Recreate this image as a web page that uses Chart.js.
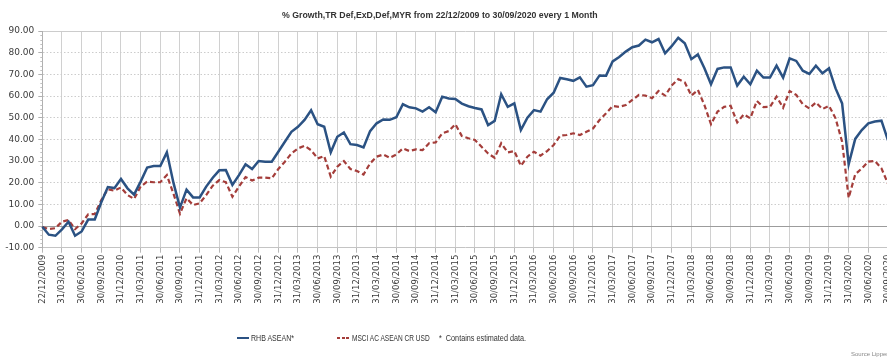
<!DOCTYPE html>
<html>
<head>
<meta charset="utf-8">
<script src="https://cdn.jsdelivr.net/npm/chart.js@4.4.1/dist/chart.umd.min.js"></script>
<style>
  html, body { margin: 0; padding: 0; background: #fff; overflow: hidden; }
  #wrap { position: relative; width: 887px; height: 358px; overflow: hidden; }
  #grafico { position: absolute; left: 0; top: 0; }
  .txt { position: absolute; white-space: nowrap; color: #333; font-family: "Liberation Sans", Arial, sans-serif; transform-origin: 0 50%; }
  #titulo { font-weight: bold; font-size: 9.5px; top: 9px; }
  .leg { font-size: 9px; top: 333px; }
  .linha { position: absolute; top: 337px; height: 2px; width: 12px; }
  #fonte { font-size: 6px; color: #888; top: 351px; left: 851px; }
</style>
</head>
<body>
<div id="wrap">
  <canvas id="grafico" width="890" height="358"></canvas>
  <div id="titulo" class="txt">% Growth,TR Def,ExD,Def,MYR from 22/12/2009 to 30/09/2020 every 1 Month</div>
  <div class="linha" style="left:237px;background:#2b5283;"></div>
  <div class="txt leg" style="left:251px" data-w="43">RHB ASEAN*</div>
  <div class="linha" style="left:337px;background:repeating-linear-gradient(to right,#a43d3a 0 3px,transparent 3px 4.5px);"></div>
  <div class="txt leg" style="left:352px" data-w="78">MSCI AC ASEAN CR USD</div>
  <div class="txt leg" style="left:439px" data-w="87">*&nbsp; Contains estimated data.</div>
  <div id="fonte" class="txt">Source Lipper</div>
</div>
<script>
// Rótulos trimestrais do eixo X
const rotulosEixo = [
  '22/12/2009', '31/03/2010', '30/06/2010', '30/09/2010', '31/12/2010',
  '31/03/2011', '30/06/2011', '30/09/2011', '31/12/2011',
  '31/03/2012', '30/06/2012', '30/09/2012', '31/12/2012',
  '31/03/2013', '30/06/2013', '30/09/2013', '31/12/2013',
  '31/03/2014', '30/06/2014', '30/09/2014', '31/12/2014',
  '31/03/2015', '30/06/2015', '30/09/2015', '31/12/2015',
  '31/03/2016', '30/06/2016', '30/09/2016', '31/12/2016',
  '31/03/2017', '30/06/2017', '30/09/2017', '31/12/2017',
  '31/03/2018', '30/06/2018', '30/09/2018', '31/12/2018',
  '31/03/2019', '30/06/2019', '30/09/2019', '31/12/2019',
  '31/03/2020', '30/06/2020', '30/09/2020'
];

// Crescimento mensal (%) - RHB ASEAN*
const rhbAsean = [
  -0.3, -4, -4.5, -1.5, 2, -4.5, -2.5, 3, 3, 11,
  18, 17.5, 21.7, 17.4, 14.5, 20.5, 27, 27.7, 27.7, 34,
  20, 8.5, 16.8, 13.2, 13.2, 18.2, 22.3, 25.7, 25.8, 19,
  23.5, 28.5, 26.3, 30, 29.7, 29.7, 34.3, 38.9, 43.5, 45.8,
  49, 53.4, 47, 45.8, 34, 41.2, 43.2, 37.8, 37.4, 36.3,
  43.8, 47.4, 49.2, 49, 50.2, 56.2, 54.8, 54.3, 52.8, 54.8,
  52.5, 59.7, 58.9, 58.6, 56.5, 55.3, 54.5, 53.8, 46.6, 48.5,
  60.8, 55, 56.6, 44.3, 50, 53.5, 52.8, 58.5, 61.5, 68.3,
  67.7, 67, 68.6, 64.3, 65, 69.5, 69.4, 76, 78, 80.5,
  82.5, 83.3, 86, 84.8, 86.3, 79.7, 83, 86.9, 84.3, 77,
  79.2, 72.8, 65.4, 72.5, 73.2, 73.2, 64.8, 68.9, 65.4, 71.7,
  68.5, 68.5, 74, 68.5, 77.4, 76.2, 71.7, 70.2, 74, 70.5,
  72.8, 63.5, 56.6, 28.5, 40.2, 44.3, 47.4, 48.2, 48.6, 39.5
];

// Crescimento mensal (%) - MSCI AC ASEAN CR USD
const msciAsean = [
  -0.5, -1.4, -1, 2, 2.8, -1.4, 1.2, 5.4, 5.5, 12,
  17, 16.3, 17.8, 14.3, 12.5, 18.2, 20.5, 20.2, 20.2, 23.5,
  15, 5.7, 12.8, 9.7, 10.5, 14.3, 18.6, 21.2, 20.2, 13.5,
  18.2, 22.6, 21, 22.3, 22.3, 22, 26.3, 29.7, 33.5, 35.8,
  37, 35, 31.2, 32.3, 22.8, 27.4, 30, 26.3, 25.4, 23.8,
  28.9, 32, 33, 31.5, 33, 35.8, 34.6, 35.4, 35, 38.2,
  38.6, 42.8, 43.8, 47, 41.5, 40.5, 39.7, 36.6, 33.5, 31.5,
  38.2, 34, 34.6, 27.8, 32, 34.3, 32.5, 34.6, 37.4, 41.7,
  42, 42.8, 42, 43.5, 45, 48.9, 52, 55.4, 55, 55.8,
  58.2, 60.5, 60.2, 59, 62.3, 60.2, 64.8, 67.8, 66.3, 60.2,
  62.8, 55.8, 47, 52.8, 55, 55.5, 47.8, 51.5, 49.7, 57.7,
  54.9, 55, 59.7, 54.6, 62.3, 60.5, 56.2, 54.3, 57, 54,
  55.5, 49.7, 38.9, 13, 23.8, 26.6, 29.7, 30, 26.6, 19.5
];

// Categorias mensais (fim de mês), a primeira é a data de início
const meses = rhbAsean.map(function(_, i) {
  if (i === 0) return '22/12/2009';
  const d = new Date(2010, i, 0);
  return String(d.getDate()).padStart(2, '0') + '/' + String(d.getMonth() + 1).padStart(2, '0') + '/' + d.getFullYear();
});

const fonteEixo = 'DejaVu Sans';

// Pequenos traços secundários no eixo Y (a cada 2 unidades)
const tracosMenores = {
  id: 'tracosMenores',
  afterDraw(chart) {
    const escala = chart.scales.y;
    const ctx = chart.ctx;
    const x = escala.right;
    ctx.save();
    ctx.strokeStyle = '#c0c0c0';
    ctx.lineWidth = 1;
    ctx.beginPath();
    for (let v = escala.min; v <= escala.max; v += 2) {
      if (v % 10 === 0) continue;
      const y = Math.round(escala.getPixelForValue(v)) + 0.5;
      ctx.moveTo(x - 2, y);
      ctx.lineTo(x, y);
    }
    ctx.stroke();
    ctx.restore();
  }
};

new Chart(document.getElementById('grafico'), {
  type: 'line',
  data: {
    labels: meses,
    datasets: [
      {
        label: 'RHB ASEAN*',
        data: rhbAsean,
        borderColor: '#2b5283',
        borderWidth: 2.5,
        pointRadius: 0,
        tension: 0
      },
      {
        label: 'MSCI AC ASEAN CR USD',
        data: msciAsean,
        borderColor: '#a43d3a',
        borderWidth: 2.2,
        borderDash: [5, 3],
        pointRadius: 0,
        tension: 0
      }
    ]
  },
  options: {
    responsive: false,
    animation: false,
    layout: { padding: { top: 31, right: 2, left: 0, bottom: 0 } },
    plugins: {
      legend: { display: false },
      title: { display: false },
      tooltip: { enabled: false }
    },
    scales: {
      x: {
        grid: {
          color: c => c.index % 3 === 0 ? '#d0d0d0' : 'transparent',
          tickColor: c => c.index % 3 === 0 ? '#b8b8b8' : 'transparent',
          tickLength: 5
        },
        border: { color: '#c4c4c4' },
        ticks: {
          autoSkip: false,
          maxRotation: 90,
          minRotation: 90,
          padding: 2,
          color: '#3a3a3a',
          font: { family: fonteEixo, size: 8.5 },
          callback: (v, i) => i % 3 === 0 ? rotulosEixo[i / 3] : ''
        },
        afterFit: s => { s.height = 358 - 247.7; s.paddingLeft = 0; s.paddingRight = 0; }
      },
      y: {
        min: -10,
        max: 90,
        ticks: {
          stepSize: 10,
          padding: 4,
          color: '#3a3a3a',
          font: { family: fonteEixo, size: 9 },
          callback: v => v.toFixed(2)
        },
        grid: {
          color: c => c.tick && c.tick.value === 0 ? '#9c9c9c' : '#cccccc',
          tickColor: '#b0b0b0',
          tickLength: 4
        },
        border: {
          color: '#b0b0b0',
          dash: c => (!c.tick || c.tick.value === 0 || c.tick.value === 90) ? [] : [1.5, 2]
        },
        afterFit: s => { s.width = 42.3; s.paddingTop = 0; }
      }
    }
  },
  plugins: [tracosMenores]
});

// Ajustar largura dos textos HTML (título e legenda) ao original
const titulo = document.getElementById('titulo');
const escalaTitulo = 316 / titulo.offsetWidth;
titulo.style.left = (440 - 158) + 'px';
titulo.style.transform = 'scaleX(' + escalaTitulo + ')';
document.querySelectorAll('.leg').forEach(function(el) {
  const alvo = Number(el.dataset.w);
  el.style.transform = 'scaleX(' + (alvo / el.offsetWidth) + ')';
});
</script>
</body>
</html>
